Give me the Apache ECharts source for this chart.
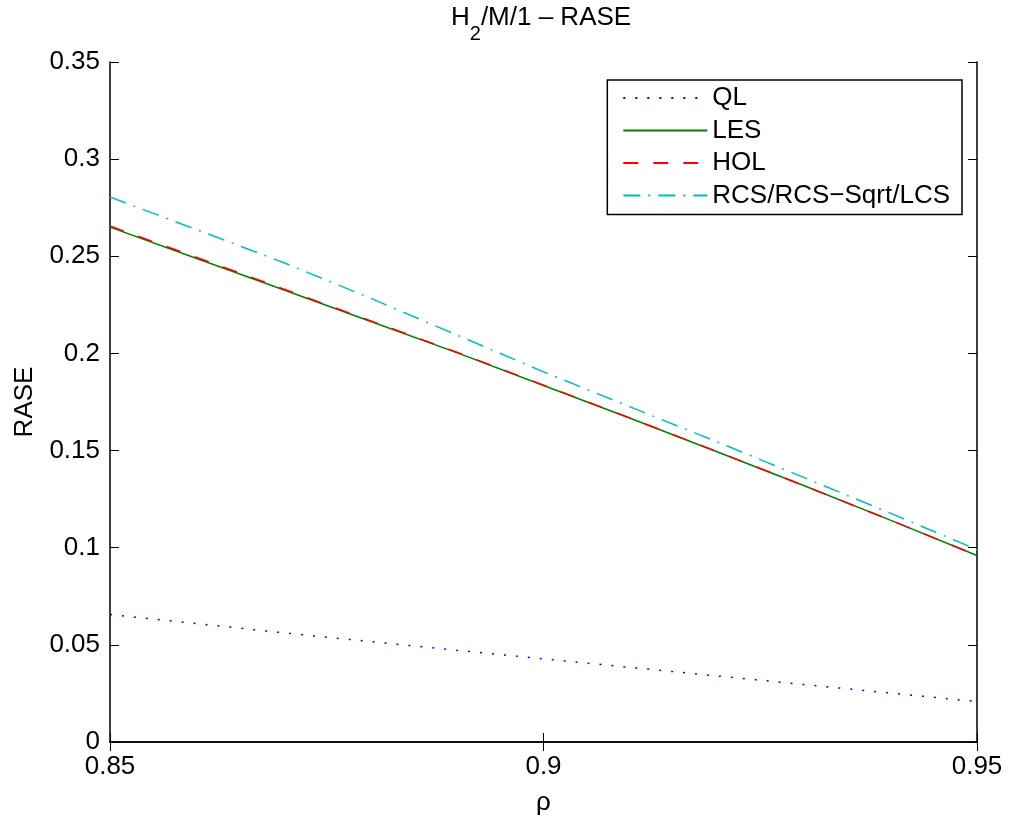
<!DOCTYPE html>
<html>
<head>
<meta charset="utf-8">
<script src="https://cdn.jsdelivr.net/npm/echarts@6/dist/echarts.min.js"></script>
<style>
html,body{margin:0;padding:0;background:#fff;}
#main{width:1009px;height:821px;}
</style>
</head>
<body>
<div id="main"></div>
<script>
// rho values
var rho = [0.85, 0.86, 0.87, 0.88, 0.89, 0.90, 0.91, 0.92, 0.93, 0.94, 0.95];
var ql  = [0.0656, 0.0609, 0.0562, 0.0517, 0.0472, 0.0428, 0.0384, 0.0340, 0.0296, 0.0252, 0.0208];
var les = [0.2650, 0.2489, 0.2328, 0.2166, 0.2004, 0.1835, 0.1666, 0.1494, 0.1320, 0.1142, 0.0960];
var hol = [0.2656, 0.2494, 0.2332, 0.2169, 0.2006, 0.1837, 0.1667, 0.1495, 0.1320, 0.1142, 0.0960];
var rcs = [0.2805, 0.2637, 0.2468, 0.2285, 0.2095, 0.1905, 0.1725, 0.1545, 0.1362, 0.1178, 0.0990];

function pairs(ys) {
	var out = [];
	for (var i = 0; i < rho.length; i++) {
		out.push([rho[i], ys[i]]);
	}
	return out;
}

var font = 'Liberation Sans, Arial, sans-serif';
var fs = 26;
var myChart = echarts.init(document.getElementById('main'));

var option = {
	backgroundColor : '#ffffff',
	animation : false,
	textStyle : { fontFamily : font },
	title : {
		text : '{a|H}{sub|2}{a|/M/1 – RASE}',
		left : 451,
		top : 5,
		padding : 0,
		textStyle : {
			fontWeight : 'normal',
			rich : {
				a : { fontSize : fs, lineHeight : 28, verticalAlign : 'top', color : '#000', fontFamily : font, fontWeight : 'normal' },
				sub : { fontSize : 20, lineHeight : 20, padding : [19, 0, 0, 0], verticalAlign : 'top', color : '#000', fontFamily : font, fontWeight : 'normal' }
			}
		}
	},
	legend : {
		orient : 'vertical',
		right : 47,
		top : 80,
		padding : [5, 12, 6, 15],
		itemWidth : 84,
		itemHeight : 14,
		itemGap : 6.5,
		itemTextGap : 9,
		itemStyle : { opacity : 0 },
		borderColor : '#000',
		borderWidth : 1.5,
		backgroundColor : '#fff',
		textStyle : { fontSize : fs, lineHeight : 26, color : '#000', fontFamily : font },
		data : ['QL', 'LES', 'HOL', 'RCS/RCS−Sqrt/LCS']
	},
	grid : {
		left : 110,
		right : 32,
		top : 62,
		bottom : 74,
		containLabel : false
	},
	xAxis : [ {
		type : 'value',
		min : 0.85,
		max : 0.95,
		interval : 0.05,
		name : 'ρ',
		nameLocation : 'middle',
		nameGap : 48,
		nameTextStyle : { fontSize : fs, color : '#000', fontFamily : font },
		splitLine : { show : false },
		axisLine : { lineStyle : { color : '#000', width : 1.5 } },
		axisTick : { inside : true, length : 9, lineStyle : { color : '#000', width : 1 } },
		axisLabel : {
			fontSize : fs, color : '#000', margin : 12,
			formatter : function (v) { return String(+v.toFixed(2)); }
		}
	}, {
		type : 'value',
		position : 'top',
		min : 0.85,
		max : 0.95,
		interval : 0.05,
		splitLine : { show : false },
		axisLine : { lineStyle : { color : '#000', width : 1.5 } },
		axisTick : { inside : true, length : 9, lineStyle : { color : '#000', width : 1 } },
		axisLabel : { show : false }
	} ],
	yAxis : [ {
		type : 'value',
		min : 0,
		max : 0.35,
		interval : 0.05,
		name : 'RASE',
		nameLocation : 'middle',
		nameGap : 72,
		nameTextStyle : { fontSize : fs, color : '#000', fontFamily : font },
		splitLine : { show : false },
		axisLine : { lineStyle : { color : '#000', width : 1.5 } },
		axisTick : { inside : true, length : 9, lineStyle : { color : '#000', width : 1 } },
		axisLabel : {
			fontSize : fs, color : '#000', margin : 10,
			formatter : function (v) { return String(+v.toFixed(2)); }
		}
	}, {
		type : 'value',
		position : 'right',
		min : 0,
		max : 0.35,
		interval : 0.05,
		splitLine : { show : false },
		axisLine : { lineStyle : { color : '#000', width : 1.5 } },
		axisTick : { inside : true, length : 9, lineStyle : { color : '#000', width : 1 } },
		axisLabel : { show : false }
	} ],
	series : [ {
		name : 'QL',
		type : 'line',
		symbol : 'none',
		data : pairs(ql),
		lineStyle : { color : '#0000ff', width : 1.5, type : [2, 10] },
		itemStyle : { color : '#0000ff' }
	}, {
		name : 'LES',
		type : 'line',
		symbol : 'none',
		data : pairs(les),
		lineStyle : { color : '#008000', width : 1.5, type : 'solid' },
		itemStyle : { color : '#008000' }
	}, {
		name : 'HOL',
		type : 'line',
		symbol : 'none',
		data : pairs(hol),
		lineStyle : { color : '#ff0000', width : 1.5, type : [15, 15] },
		itemStyle : { color : '#ff0000' }
	}, {
		name : 'RCS/RCS−Sqrt/LCS',
		type : 'line',
		symbol : 'none',
		data : pairs(rcs),
		lineStyle : { color : '#00bfbf', width : 1.5, type : [17, 8, 2, 8] },
		itemStyle : { color : '#00bfbf' }
	} ]
};
myChart.setOption(option);
</script>
</body>
</html>
